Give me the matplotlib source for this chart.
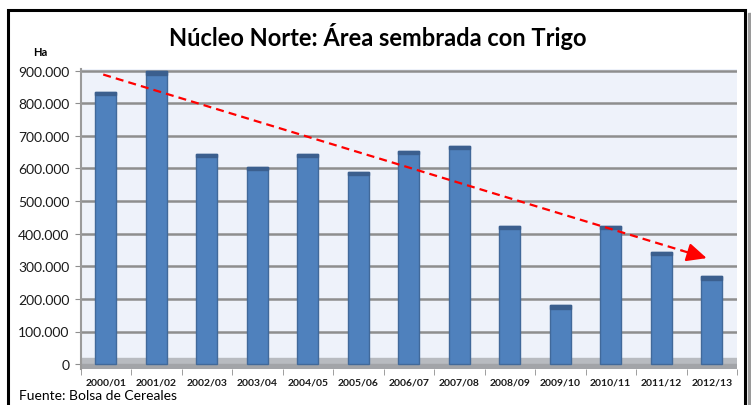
import matplotlib.pyplot as plt
import matplotlib.patches as mpatches
import numpy as np

campaigns = ['2000/01', '2001/02', '2002/03', '2003/04', '2004/05', '2005/06', '2006/07',
             '2007/08', '2008/09', '2009/10', '2010/11', '2011/12', '2012/13']
area_ha = [835000, 898000, 645000, 605000, 645000, 590000, 655000,
           670000, 425000, 180000, 425000, 345000, 270000]
y_ticks = [0, 100000, 200000, 300000, 400000, 500000, 600000, 700000, 800000, 900000]
trend_start = (-0.05, 888000)
trend_end = (11.9, 325000)

plt.rcParams['font.family'] = ['Lato', 'DejaVu Sans']

fig = plt.figure(figsize=(7.51, 4.06), dpi=100)
fig.patch.set_facecolor('white')

# black outer frame
fig.patches.append(mpatches.Rectangle((8 / 751, -0.05), 737 / 751, 1 - 11 / 406 + 0.05,
                                      transform=fig.transFigure, fill=False,
                                      edgecolor='black', linewidth=2.2))
fig.patches.append(mpatches.Rectangle((748 / 751, 0), 3 / 751, 1 - 14 / 406,
                                      transform=fig.transFigure, color='#9a9a9a'))

ax = fig.add_axes([80.5 / 751, 1 - 370 / 406, (737 - 80.5) / 751, (370 - 70) / 406])
ax.set_facecolor('#eef2fa')

x = np.arange(len(campaigns))
ax.set_xlim(-0.5, len(campaigns) - 0.5)
ax.set_ylim(-15000, 905000)

# grid lines and floor
for t in y_ticks[1:]:
    ax.axhline(t, color='#8e8e8e', lw=1.8, zorder=1)
ax.axhspan(0, 18000, color='#b8bbc0', zorder=1)
ax.axhspan(-15000, 0, color='#a2a4a8', zorder=1)

ax.bar(x, area_ha, width=0.42, color='#4f81bd', edgecolor='#41699a', lw=1, zorder=3)
cap = [11000] * len(area_ha)
ax.bar(x, cap, bottom=np.array(area_ha) - 11000, width=0.42, color='#3b5f8e',
       edgecolor='#3b5f8e', lw=1, zorder=4)

# dashed trend line + solid arrow head
frac = 0.96
mid = (trend_start[0] + frac * (trend_end[0] - trend_start[0]),
       trend_start[1] + frac * (trend_end[1] - trend_start[1]))
ax.plot([trend_start[0], mid[0]], [trend_start[1], mid[1]], color='#ff0000', lw=1.6,
        linestyle=(0, (3.6, 2.3)), zorder=5)
ax.annotate('', xy=trend_end, xytext=mid,
            arrowprops=dict(arrowstyle='-|>,head_length=0.6,head_width=0.28', color='#ff0000',
                            lw=1.6, mutation_scale=20, shrinkA=0, shrinkB=0),
            zorder=5)

ax.set_yticks(y_ticks)
ax.set_yticklabels([f'{v:,}'.replace(',', '.') for v in y_ticks], fontsize=10, color='#1a1a1a')
ax.set_xticks(x)
ax.set_xticklabels(campaigns, fontsize=7.5, fontweight='bold', color='#1a1a1a')
ax.set_xticks(np.arange(-0.5, len(campaigns)), minor=True)
ax.tick_params(axis='x', which='major', length=0, pad=6)
ax.tick_params(axis='x', which='minor', length=4, color='#8e8e8e')
ax.tick_params(axis='y', length=4, color='#8e8e8e', pad=4)

for side in ['top', 'right', 'bottom']:
    ax.spines[side].set_visible(False)
ax.spines['left'].set_color('#9a9a9a')
ax.spines['left'].set_linewidth(1.5)

fig.text(378 / 751, 1 - 37 / 406, 'Núcleo Norte: Área sembrada con Trigo', ha='center',
         va='center', fontsize=17, fontweight='bold', color='black')
fig.text(40 / 751, 1 - 52 / 406, 'Ha', ha='center', va='center', fontsize=8,
         fontweight='bold', color='black')
fig.text(19 / 751, 1 - 396 / 406, 'Fuente: Bolsa de Cereales', ha='left', va='center',
         fontsize=10, color='black')

fig.savefig('out.png', dpi=100)
